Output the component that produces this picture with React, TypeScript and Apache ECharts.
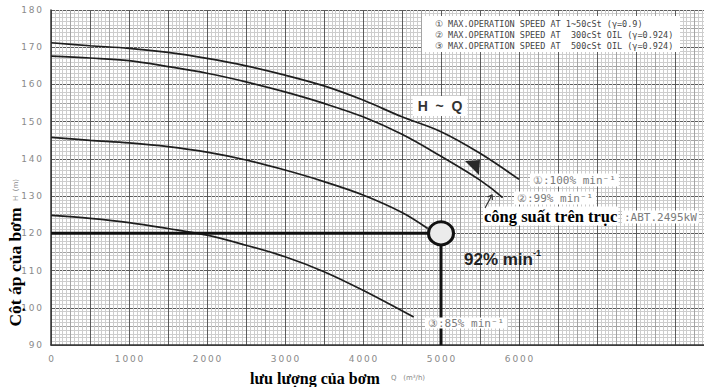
import React, { useEffect, useRef } from "react";
import * as echarts from "echarts";

// ---- data ----
const flow100 = [0, 500, 1000, 1500, 2000, 2500, 3000, 3500, 4000, 4500, 5000, 5500, 6000];
const head100 = [171.2, 170.4, 169.7, 168.6, 167.0, 165.0, 162.5, 159.6, 155.8, 151.3, 147.3, 141.5, 134.5];
const flow99 = [0, 500, 1000, 1500, 2000, 2500, 3000, 3500, 4000, 4500, 5000, 5500, 5790];
const head99 = [167.6, 167.1, 166.4, 164.8, 163.0, 160.7, 158.0, 154.9, 151.3, 146.6, 140.7, 134.3, 129.6];
const flow92 = [0, 500, 1000, 1500, 2000, 2500, 3000, 3500, 4000, 4500, 4830];
const head92 = [145.8, 145.0, 144.3, 143.3, 141.8, 139.7, 137.0, 133.9, 130.3, 125.6, 121.3];
const flow85 = [0, 500, 1000, 1500, 2000, 2500, 3000, 3500, 4000, 4650];
const head85 = [124.8, 124.0, 122.9, 121.3, 119.5, 116.8, 113.7, 109.7, 104.7, 97.5];
const dutyFlow = 5000;
const dutyHead = 120;
const xTickLabels = [0, 1000, 2000, 3000, 4000, 5000, 6000];
const yTickLabels = [90, 100, 110, 120, 130, 140, 150, 160, 170, 180];
const legendLines = [
  "\u2460 MAX.OPERATION SPEED AT 1~50cSt (\u03b3=0.9)",
  "\u2461 MAX.OPERATION SPEED AT  300cSt OIL (\u03b3=0.924)",
  "\u2462 MAX.OPERATION SPEED AT  500cSt OIL (\u03b3=0.924)",
];

const X_MIN = 0;
const X_MAX = 8500;
const Y_MIN = 90;
const Y_MAX = 180;

const zip = (xs: number[], ys: number[]) => xs.map((x, i) => [x, ys[i]]);
const spaced = (v: number) => String(v).split("").join("\u2009");

const gridAxisX = (interval: number, color: string) => ({
  type: "value",
  position: "bottom",
  min: X_MIN,
  max: X_MAX,
  interval,
  axisLine: { show: false },
  axisTick: { show: false },
  axisLabel: { show: false },
  splitLine: { show: true, lineStyle: { color, width: 1 } },
});
const gridAxisY = (interval: number, color: string) => ({
  type: "value",
  position: "left",
  min: Y_MIN,
  max: Y_MAX,
  interval,
  axisLine: { show: false },
  axisTick: { show: false },
  axisLabel: { show: false },
  splitLine: { show: true, lineStyle: { color, width: 1 } },
});

const curve = (name: string, data: number[][]) => ({
  name,
  type: "line",
  xAxisIndex: 2,
  yAxisIndex: 2,
  data,
  smooth: 0.35,
  symbol: "none",
  lineStyle: { color: "#1e1e1e", width: 1.7 },
  z: 3,
});

const greyMono = "'DejaVu Sans Mono', 'Liberation Mono', monospace";

export default function App() {
  const ref = useRef<HTMLDivElement>(null);
  useEffect(() => {
    document.body.style.margin = "0";
    const chart = echarts.init(ref.current!, null, { renderer: "svg" });
    const option: any = {
      animation: false,
      backgroundColor: "#ffffff",
      grid: {
        left: 51,
        top: 10,
        width: 663,
        bottom: 42,
        containLabel: false,
        outerBoundsMode: "none",
      },
      xAxis: [
        gridAxisX(50, "#cdcdcd"),
        gridAxisX(250, "#a4a4a4"),
        {
          type: "value",
          position: "bottom",
          min: X_MIN,
          max: X_MAX,
          interval: 500,
          axisLine: { show: true, lineStyle: { color: "#333", width: 1.5 } },
          axisTick: { show: false },
          axisLabel: {
            margin: 9,
            color: "#8a8a8a",
            fontSize: 9,
            fontFamily: "'DejaVu Sans', sans-serif",
            formatter: (v: number) => (xTickLabels.includes(v) ? spaced(v) : ""),
          },
          splitLine: { show: true, lineStyle: { color: "#5c5c5c", width: 1 } },
        },
      ],
      yAxis: [
        gridAxisY(1, "#cdcdcd"),
        gridAxisY(5, "#a4a4a4"),
        {
          type: "value",
          position: "left",
          min: Y_MIN,
          max: Y_MAX,
          interval: 10,
          axisLine: { show: true, lineStyle: { color: "#333", width: 1.5 } },
          axisTick: { show: false },
          axisLabel: {
            margin: 9,
            color: "#8a8a8a",
            fontSize: 9,
            fontFamily: "'DejaVu Sans', sans-serif",
            formatter: (v: number) => (yTickLabels.includes(v) ? spaced(v) : ""),
          },
          splitLine: { show: true, lineStyle: { color: "#5c5c5c", width: 1 } },
        },
      ],
      series: [
        curve("100%", zip(flow100, head100)),
        curve("99%", zip(flow99, head99)),
        curve("92%", zip(flow92, head92)),
        curve("85%", zip(flow85, head85)),
        {
          type: "line",
          xAxisIndex: 2,
          yAxisIndex: 2,
          data: [
            [X_MIN, dutyHead],
            [dutyFlow, dutyHead],
          ],
          symbol: "none",
          lineStyle: { color: "#111", width: 3 },
          z: 4,
        },
        {
          type: "line",
          xAxisIndex: 2,
          yAxisIndex: 2,
          data: [
            [dutyFlow, dutyHead],
            [dutyFlow, Y_MIN],
          ],
          symbol: "none",
          lineStyle: { color: "#111", width: 3 },
          z: 4,
        },
        {
          type: "scatter",
          xAxisIndex: 2,
          yAxisIndex: 2,
          data: [[dutyFlow, dutyHead]],
          symbol: "circle",
          symbolSize: [25, 23],
          itemStyle: { color: "#ebebeb", borderColor: "#111", borderWidth: 3, opacity: 1 },
          z: 6,
        },
      ],
      graphic: [
        // legend box
        { type: "rect", shape: { x: 422, y: 16, width: 258, height: 36 }, style: { fill: "#fff" }, z: 10 },
        ...legendLines.map((t, i) => ({
          type: "text",
          x: 435,
          y: 24 + i * 11,
          style: { text: t, fill: "#444", font: `8.5px ${greyMono}`, textVerticalAlign: "middle" },
          z: 11,
        })),
        // H ~ Q
        {
          type: "text",
          x: 440,
          y: 106,
          style: {
            text: "H  ~  Q",
            fill: "#333",
            font: "bold 14px 'Liberation Sans', Arial, sans-serif",
            textAlign: "center",
            textVerticalAlign: "middle",
            backgroundColor: "#fff",
            padding: [3, 5],
          },
          z: 11,
        },
        // curve labels
        {
          type: "text",
          x: 530,
          y: 180,
          style: {
            text: "\u2460:100% min\u207b\u00b9",
            fill: "#7a7a7a",
            font: `11px ${greyMono}`,
            textVerticalAlign: "middle",
            backgroundColor: "#fff",
            padding: [1, 3],
          },
          z: 11,
        },
        {
          type: "text",
          x: 514,
          y: 198,
          style: {
            text: "\u2461:99% min\u207b\u00b9",
            fill: "#7a7a7a",
            font: `11px ${greyMono}`,
            textVerticalAlign: "middle",
            backgroundColor: "#fff",
            padding: [1, 3],
          },
          z: 11,
        },
        {
          type: "text",
          x: 425,
          y: 323,
          style: {
            text: "\u2462:85% min\u207b\u00b9",
            fill: "#7a7a7a",
            font: `11px ${greyMono}`,
            textVerticalAlign: "middle",
            backgroundColor: "#fff",
            padding: [0, 3],
          },
          z: 11,
        },
        // shaft power
        {
          type: "text",
          x: 483,
          y: 216,
          style: {
            text: "c\u00f4ng su\u1ea5t tr\u00ean tr\u1ee5c",
            fill: "#000",
            font: "bold 16.5px 'Liberation Serif', 'Times New Roman', serif",
            textVerticalAlign: "middle",
            backgroundColor: "#fff",
            padding: [1, 1],
          },
          z: 11,
        },
        {
          type: "text",
          x: 622,
          y: 217,
          style: {
            text: ":ABT.2495kW",
            fill: "#7a7a7a",
            font: `11px ${greyMono}`,
            textVerticalAlign: "middle",
            backgroundColor: "#fff",
            padding: [1, 2],
          },
          z: 11,
        },
        // 92% min-1
        {
          type: "text",
          x: 464,
          y: 259,
          style: {
            text: "92% min",
            fill: "#222",
            font: "bold 17px 'Liberation Sans', Arial, sans-serif",
            textVerticalAlign: "middle",
          },
          z: 11,
        },
        {
          type: "text",
          x: 533,
          y: 253,
          style: {
            text: "-1",
            fill: "#222",
            font: "bold 9px 'Liberation Sans', Arial, sans-serif",
            textVerticalAlign: "middle",
          },
          z: 11,
        },
        // filled arrow head near curves 1/2
        {
          type: "polygon",
          shape: { points: [[465, 161], [480, 160], [479, 175]] },
          style: { fill: "#2a2a2a" },
          z: 11,
        },
        // thin arrow to curve 2
        {
          type: "line",
          shape: { x1: 485, y1: 208, x2: 492, y2: 195 },
          style: { stroke: "#333", lineWidth: 1.2 },
          z: 11,
        },
        {
          type: "polyline",
          shape: { points: [[487.5, 197], [492, 195], [492.5, 200]] },
          style: { stroke: "#333", lineWidth: 1.2, fill: null },
          z: 11,
        },
        // y axis name
        {
          type: "text",
          x: 15,
          y: 267,
          rotation: Math.PI / 2,
          style: {
            text: "C\u1ed9t \u00e1p c\u1ee7a b\u01a1m",
            fill: "#000",
            font: "bold 17.5px 'Liberation Serif', 'Times New Roman', serif",
            textAlign: "center",
            textVerticalAlign: "middle",
          },
          z: 11,
        },
        {
          type: "text",
          x: 16,
          y: 190,
          rotation: Math.PI / 2,
          style: {
            text: "H  (m)",
            fill: "#888",
            font: "7px 'DejaVu Sans', sans-serif",
            textAlign: "center",
            textVerticalAlign: "middle",
          },
          z: 11,
        },
        // x axis name
        {
          type: "text",
          x: 250,
          y: 378,
          style: {
            text: "l\u01b0u l\u01b0\u1ee3ng c\u1ee7a b\u01a1m",
            fill: "#000",
            font: "bold 16px 'Liberation Serif', 'Times New Roman', serif",
            textVerticalAlign: "middle",
          },
          z: 11,
        },
        {
          type: "text",
          x: 391,
          y: 378,
          style: {
            text: "Q   (m\u00b3/h)",
            fill: "#888",
            font: "7px 'DejaVu Sans', sans-serif",
            textVerticalAlign: "middle",
          },
          z: 11,
        },
      ],
    };
    chart.setOption(option);
    return () => chart.dispose();
  }, []);
  return <div ref={ref} style={{ width: 704, height: 387, background: "#fff" }} />;
}
